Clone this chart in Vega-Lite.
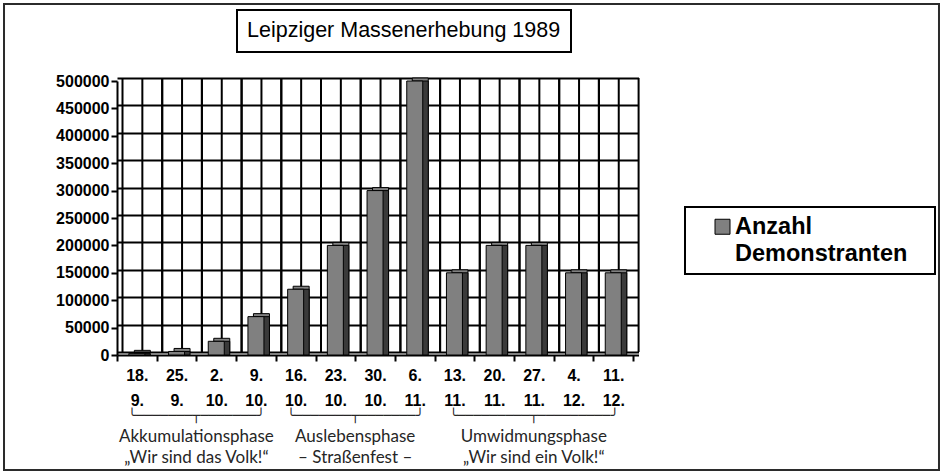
{
  "$schema": "https://vega.github.io/schema/vega-lite/v6.json",
  "width": 521.5,
  "height": 274,
  "autosize": {"type": "none"},
  "padding": {"left": 117, "top": 81, "right": 303.5, "bottom": 119},
  "background": "white",
  "datasets": {
    "demos": [
      {"date": "18. 9.", "count": 3000},
      {"date": "25. 9.", "count": 6500},
      {"date": "2. 10.", "count": 25000},
      {"date": "9. 10.", "count": 70000},
      {"date": "16. 10.", "count": 120000},
      {"date": "23. 10.", "count": 200000},
      {"date": "30. 10.", "count": 300000},
      {"date": "6. 11.", "count": 500000},
      {"date": "13. 11.", "count": 150000},
      {"date": "20. 11.", "count": 200000},
      {"date": "27. 11.", "count": 200000},
      {"date": "4. 12.", "count": 150000},
      {"date": "11. 12.", "count": 150000}
    ],
    "phases": [
      {"lines": ["Akkumulationsphase", "„Wir sind das Volk!“"], "mid": "2. 10.", "span": 4},
      {"lines": ["Auslebensphase", "– Straßenfest –"], "mid": "30. 10.", "span": 4},
      {"lines": ["Umwidmungsphase", "„Wir sind ein Volk!“"], "mid": "27. 11.", "span": 5}
    ]
  },
  "data": {"name": "demos"},
  "layer": [
    {
      "mark": {"type": "rule", "color": "black", "strokeWidth": 2, "xOffset": 5.5, "yOffset": -3, "y2Offset": -3},
      "encoding": {
        "x": {"field": "date", "type": "nominal", "sort": null, "bandPosition": 0},
        "y": {"datum": 0, "type": "quantitative", "axis": null},
        "y2": {"datum": 500000},
        "strokeDash": {
          "datum": "Rahmen", "type": "nominal",
          "scale": {"range": [[1, 0]]},
          "legend": {
            "orient": "none", "legendX": 120.5, "legendY": -78, "title": null,
            "padding": 0, "strokeColor": null, "fillColor": null,
            "symbolType": "M-2.0064,-1H2.0064V1H-2.0064Z", "symbolSize": 217156,
            "symbolFillColor": "transparent", "symbolStrokeColor": "#2b2b2b", "symbolStrokeWidth": 2,
            "labelExpr": "''", "labelFontSize": 1, "labelOffset": 0
          }
        }
      }
    },
    {
      "mark": {"type": "rule", "color": "black", "strokeWidth": 2, "xOffset": 5.5, "yOffset": -3, "y2Offset": -3},
      "encoding": {
        "x": {"field": "date", "type": "nominal", "sort": null, "bandPosition": 0.5},
        "y": {"datum": 0, "type": "quantitative", "axis": null},
        "y2": {"datum": 500000}
      }
    },
    {
      "mark": {"type": "rule", "color": "black", "strokeWidth": 2, "xOffset": 5.5, "yOffset": -3, "y2Offset": -3},
      "encoding": {
        "x": {"field": "date", "type": "nominal", "sort": null, "bandPosition": 1},
        "y": {"datum": 0, "type": "quantitative", "axis": null},
        "y2": {"datum": 500000}
      }
    },
    {
      "mark": {"type": "bar", "width": 16, "xOffset": 5.5, "yOffset": -3, "y2Offset": -3, "fill": "#808080", "stroke": "black", "strokeWidth": 1},
      "encoding": {
        "x": {
          "field": "date", "type": "nominal", "sort": null,
          "scale": {"type": "band", "paddingInner": 0, "paddingOuter": 0.068, "align": 0},
          "axis": {"orient": "bottom", "title": null, "tickBand": "extent", "labelAngle": 0, "labelAlign": "center", "labelPadding": 14, "labelLineHeight": 25, "labelOverlap": false, "labelExpr": "split(datum.label, ' ')"}
        },
        "y": {
          "field": "count", "type": "quantitative",
          "scale": {"domain": [0, 500000], "nice": false},
          "axis": {"orient": "left", "title": null, "grid": false, "tickCount": 10, "format": "d", "labelPadding": 2}
        },
        "opacity": {
          "datum": "Leipziger Massenerhebung 1989", "type": "ordinal",
          "scale": {"range": [1, 1]},
          "legend": {
            "orient": "none", "legendX": 120, "legendY": -71, "title": null,
            "padding": 10, "strokeColor": "black", "fillColor": "white",
            "symbolType": "M0,0L0,0", "symbolSize": 1, "symbolStrokeWidth": 0, "labelOffset": -21.5,
            "labelFont": "Liberation Sans", "labelFontSize": 21.5, "labelFontWeight": "normal",
            "labelColor": "black", "labelLimit": 500
          }
        }
      }
    },
    {
      "mark": {"type": "bar", "width": 16, "xOffset": 5.5, "y2Offset": -3, "fill": "#3a3a3a", "stroke": "black", "strokeWidth": 1},
      "encoding": {
        "x": {"field": "date", "type": "nominal", "sort": null},
        "y": {"field": "count", "type": "quantitative", "axis": null}
      }
    },
    {
      "mark": {"type": "bar", "width": 16, "stroke": "black", "strokeWidth": 1},
      "encoding": {
        "x": {"field": "date", "type": "nominal", "sort": null},
        "y": {
          "field": "count", "type": "quantitative",
          "axis": {"orient": "right", "title": null, "grid": true, "tickCount": 10, "labels": false, "ticks": false, "domain": false, "tickOffset": -3}
        },
        "fill": {
          "datum": "Anzahl Demonstranten", "type": "nominal",
          "scale": {"range": ["#808080"]},
          "legend": {
            "orient": "none", "legendX": 568, "legendY": 126,
            "title": " ", "titleOrient": "right", "titlePadding": 19.5, "titleFontSize": 23.5,
            "padding": 8, "strokeColor": "black", "fillColor": "white",
            "symbolType": "square", "symbolSize": 225, "symbolOffset": 17.75,
            "symbolStrokeColor": "black", "symbolStrokeWidth": 1,
            "labelOffset": 0.75, "labelFont": "Liberation Sans", "labelFontSize": 23.5,
            "labelFontWeight": "bold", "labelColor": "black", "labelLimit": 400,
            "labelExpr": "split(datum.label, ' ')"
          }
        }
      }
    },
    {
      "data": {"name": "phases"},
      "transform": [{"filter": "datum.span == 4"}],
      "mark": {"type": "text", "font": "Lato", "fontSize": 17, "color": "#262626", "align": "center", "baseline": "alphabetic", "dy": 86.7, "lineHeight": 21.5},
      "encoding": {
        "x": {"field": "mid", "type": "nominal", "sort": null, "bandPosition": 0},
        "y": {"datum": 0, "type": "quantitative", "axis": null},
        "text": {"field": "lines"}
      }
    },
    {
      "data": {"name": "phases"},
      "transform": [{"filter": "datum.span == 5"}],
      "mark": {"type": "text", "font": "Lato", "fontSize": 17, "color": "#262626", "align": "center", "baseline": "alphabetic", "dy": 86.7, "lineHeight": 21.5},
      "encoding": {
        "x": {"field": "mid", "type": "nominal", "sort": null, "bandPosition": 0.5},
        "y": {"datum": 0, "type": "quantitative", "axis": null},
        "text": {"field": "lines"}
      }
    },
    {
      "data": {"name": "phases"},
      "transform": [{"filter": "datum.span == 4"}],
      "mark": {"type": "text", "font": "DejaVu Sans Mono", "fontSize": 13.4, "color": "#262626", "align": "center", "baseline": "alphabetic", "dy": 64.6},
      "encoding": {
        "x": {"field": "mid", "type": "nominal", "sort": null, "bandPosition": 0},
        "y": {"datum": 0, "type": "quantitative", "axis": null},
        "text": {"value": "╰───────┬───────╯"}
      }
    },
    {
      "data": {"name": "phases"},
      "transform": [{"filter": "datum.span == 5"}],
      "mark": {"type": "text", "font": "DejaVu Sans Mono", "fontSize": 13.4, "color": "#262626", "align": "center", "baseline": "alphabetic", "dy": 64.6},
      "encoding": {
        "x": {"field": "mid", "type": "nominal", "sort": null, "bandPosition": 0.5},
        "y": {"datum": 0, "type": "quantitative", "axis": null},
        "text": {"value": "╰─────────┬─────────╯"}
      }
    }
  ],
  "resolve": {"axis": {"y": "independent"}},
  "config": {
    "view": {"stroke": null},
    "font": "Liberation Sans",
    "axis": {
      "labelFont": "Liberation Sans", "labelFontSize": 16, "labelFontWeight": "bold", "labelColor": "black",
      "domainColor": "black", "domainWidth": 2, "tickColor": "black", "tickWidth": 2, "tickSize": 6,
      "gridColor": "black", "gridWidth": 2, "gridOpacity": 1
    },
    "legend": {"strokeWidth": 2},
    "style": {"guide-label": {"lineHeight": 27}}
  }
}
